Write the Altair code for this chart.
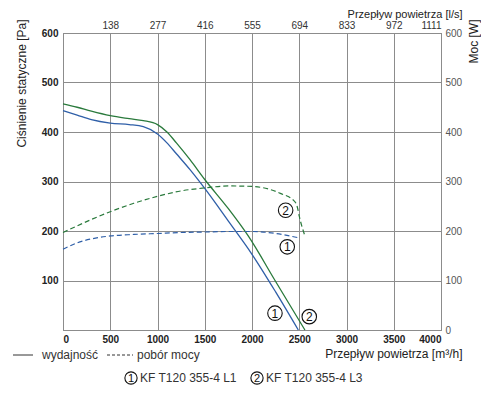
import json
import altair as alt
import pandas as pd

# ---- data ----
# static pressure [Pa] vs airflow [m3/h]
q_l1 = [0, 150, 300, 500, 700, 850, 1000, 1100, 1200, 1344, 1500, 1750, 2000, 2250, 2490]
p_l1 = [443, 434, 425, 418, 415, 411, 396, 378, 356, 324, 286, 220, 153, 77, 0]
q_l3 = [0, 150, 300, 500, 700, 850, 1000, 1100, 1200, 1344, 1500, 1750, 1960, 2250, 2560]
p_l3 = [457, 450, 442, 433, 427, 423, 415, 400, 378, 344, 304, 245, 190, 98, 0]
# power [W] vs airflow [m3/h]
qw_l1 = [0, 150, 300, 500, 750, 1000, 1250, 1500, 1750, 2000, 2250, 2500]
w_l1 = [163, 176, 184, 190, 193, 195, 197, 198, 199, 199, 195, 186]
qw_l3 = [0, 285, 500, 750, 1000, 1250, 1500, 1750, 2000, 2300, 2455, 2480, 2500, 2560]
w_l3 = [197, 222, 239, 256, 270, 281, 287, 291, 290, 276, 259, 248, 230, 190]

series = ["L1", "L3"]
x_ticks = [0, 500, 1000, 1500, 2000, 2500, 3000, 3500, 4000]
y_ticks = [0, 100, 200, 300, 400, 500, 600]
top_labels = ["", "138", "277", "416", "555", "694", "833", "972", "1111"]

ann_q = [2356, 2373, 2243, 2606]
ann_v = [242, 168, 34, 27]
ann_txt = ["2", "1", "1", "2"]

legend_labels = ["wydajność", "pobór mocy"]
model_digits = ["1", "2"]
model_labels = ["KF T120 355-4 L1", "KF T120 355-4 L3"]

BLUE = "#2f5fa8"
GREEN = "#2a7a3c"
GRID = "#8c8c8c"
FONT = "Liberation Sans"

pres = pd.DataFrame({
    "q": q_l1 + q_l3,
    "v": p_l1 + p_l3,
    "s": [series[0]] * len(q_l1) + [series[1]] * len(q_l3),
})
power = pd.DataFrame({
    "q": qw_l1 + qw_l3,
    "v": w_l1 + w_l3,
    "s": [series[0]] * len(qw_l1) + [series[1]] * len(qw_l3),
})
ann = pd.DataFrame({"q": ann_q, "v": ann_v, "t": ann_txt})
one = pd.DataFrame({"a": [0]})

xs = alt.Scale(domain=[0, 4000], nice=False)
ys = alt.Scale(domain=[0, 600], nice=False)
col = alt.Color("s:N", scale=alt.Scale(domain=series, range=[BLUE, GREEN]), legend=None)

common_axis = dict(grid=True, gridColor=GRID, gridWidth=1, domainColor=GRID,
                   ticks=False, labelFont=FONT, titleFont=FONT,
                   titleFontWeight="normal", titleFontSize=12, titleColor="#222")

pressure_layer = alt.Chart(pres).mark_line(strokeWidth=1.3, interpolate="monotone").encode(
    x=alt.X("q:Q", scale=xs, axis=alt.Axis(
        orient="bottom", values=x_ticks, format="d", title="Przepływ powietrza  [m³/h]",
        labelFontWeight="bold", labelFontSize=10, labelColor="#222", labelPadding=4,
        titleX=399, titleY=23, titleAlign="right", titleBaseline="middle", **common_axis)),
    y=alt.Y("v:Q", scale=ys, axis=alt.Axis(
        orient="left", values=y_ticks, format="d", title="Ciśnienie statyczne [Pa]",
        labelExpr="datum.value == 0 ? '' : datum.label",
        labelFontWeight="bold", labelFontSize=10, labelColor="#222", labelPadding=5,
        titleX=-42, titleY=-14, titleAngle=270, titleAlign="right", titleBaseline="middle",
        **common_axis)),
    color=col,
)

top_axis = dict(common_axis)
top_axis["titleFontSize"] = 11
top_expr = json.dumps(top_labels) + "[round(datum.value / 500)]"
power_layer = alt.Chart(power).mark_line(strokeWidth=1.2, strokeDash=[5, 3], interpolate="monotone").encode(
    x=alt.X("q:Q", scale=xs, axis=alt.Axis(
        orient="top", values=x_ticks, title="Przepływ powietrza [l/s]",
        labelExpr=top_expr, labelFontSize=10, labelColor="#333", labelPadding=3,
        titleX=399, titleY=-25, titleAlign="right", titleBaseline="top", **top_axis)),
    y=alt.Y("v:Q", scale=ys, axis=alt.Axis(
        orient="right", values=y_ticks, format="d", title="Moc [W]",
        labelFontSize=10, labelColor="#555", labelPadding=4,
        titleX=32, titleY=-14, titleAngle=270, titleAlign="right", titleBaseline="middle",
        **common_axis)),
    color=col,
)

ann_circles = alt.Chart(ann).mark_point(shape="circle", filled=False, size=210,
                                        stroke="#111", strokeWidth=1.1, opacity=1).encode(
    x=alt.X("q:Q", scale=xs, axis=None), y=alt.Y("v:Q", scale=ys, axis=None))
ann_text = alt.Chart(ann).mark_text(font=FONT, fontSize=12, color="#111",
                                    baseline="middle", align="center", dy=0.5).encode(
    x=alt.X("q:Q", scale=xs, axis=None), y=alt.Y("v:Q", scale=ys, axis=None), text="t:N")

LEG_Y = 322
leg_solid = alt.Chart(one).mark_rule(color="#333", strokeWidth=1).encode(
    x=alt.value(-50), x2=alt.value(-30), y=alt.value(LEG_Y))
leg_dash = alt.Chart(one).mark_rule(color="#333", strokeWidth=1, strokeDash=[3, 2]).encode(
    x=alt.value(44), x2=alt.value(70), y=alt.value(LEG_Y))
leg_t1 = alt.Chart(one).mark_text(font=FONT, fontSize=12, color="#333", align="left",
                                  baseline="middle", text=legend_labels[0]).encode(
    x=alt.value(-21), y=alt.value(LEG_Y))
leg_t2 = alt.Chart(one).mark_text(font=FONT, fontSize=12, color="#333", align="left",
                                  baseline="middle", text=legend_labels[1]).encode(
    x=alt.value(74), y=alt.value(LEG_Y))

MOD_Y = 345
mod_layers = []
for cx, dig, lab in zip([68, 194], model_digits, model_labels):
    mod_layers.append(alt.Chart(one).mark_point(shape="circle", filled=False, size=150,
                                                stroke="#111", strokeWidth=1.1, opacity=1).encode(
        x=alt.value(cx), y=alt.value(MOD_Y)))
    mod_layers.append(alt.Chart(one).mark_text(font=FONT, fontSize=11, color="#111",
                                               align="center", baseline="middle", dy=0.5, text=dig).encode(
        x=alt.value(cx), y=alt.value(MOD_Y)))
    mod_layers.append(alt.Chart(one).mark_text(font=FONT, fontSize=12, color="#333",
                                               align="left", baseline="middle", text=lab).encode(
        x=alt.value(cx + 9), y=alt.value(MOD_Y)))

chart = alt.layer(
    pressure_layer, power_layer, ann_circles, ann_text,
    leg_solid, leg_dash, leg_t1, leg_t2, *mod_layers,
).resolve_axis(x="independent", y="independent").resolve_scale(color="shared").properties(
    width=378, height=297, autosize="none",
    padding={"left": 55, "top": 25, "right": 40, "bottom": 60},
    background="white",
).configure_view(stroke=None)

chart.save("out.html", embed_options={"renderer": "svg", "actions": False})
